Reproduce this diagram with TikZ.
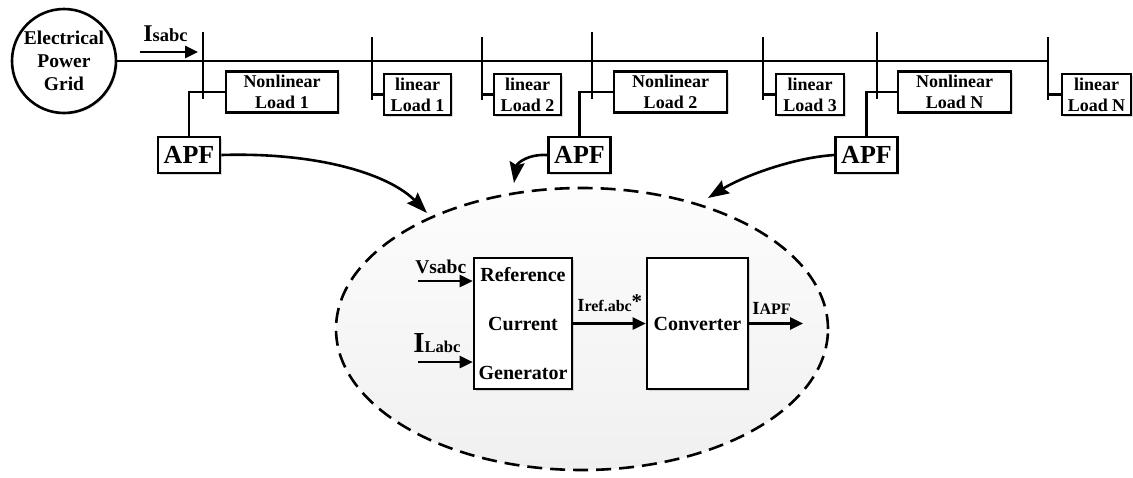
\documentclass[tikz,border=0pt]{standalone}
\usepackage{fontspec}
\setmainfont{Liberation Serif}
\usetikzlibrary{arrows.meta}
\usetikzlibrary{shapes.geometric}
\usetikzlibrary{shadows}

\tikzset{
  shadowed/.style={drop shadow={shadow xshift=1.5pt, shadow yshift=-1.5pt, opacity=0.3}},
  loadbox/.style={draw, shadowed, fill=white, align=center, inner sep=0pt, minimum height=41pt, font=\fontsize{18}{21}\selectfont\bfseries},
  apfbox/.style={draw, shadowed, fill=white, inner sep=0pt, minimum width=62pt, minimum height=36pt, font=\fontsize{26}{26}\selectfont\bfseries},
  blockbox/.style={draw, shadowed, fill=white, align=center, inner sep=0pt, minimum height=131pt, font=\fontsize{20}{49}\selectfont\bfseries},
  flow/.style={-{Triangle[length=13pt,width=12pt]}},
  feedarrow/.style={-{Stealth[length=21pt,width=15pt,inset=3pt]}},
}

\begin{document}
\begin{tikzpicture}[x=1pt, y=-1pt, line width=2.6pt, font=\bfseries]
\definecolor{CORE}{RGB}{240,240,240}
\useasboundingbox (0,0) rectangle (1133,477);

\node[circle, draw, shadowed, fill=white, minimum size=104pt, inner sep=0pt, align=center, font=\fontsize{19.5}{23}\selectfont\bfseries] (grid) at (64,61) {Electrical\\Power\\Grid};
\coordinate (busend) at (1048,61);
\draw (grid.east) -- (busend);

\coordinate (isin) at (140,52);
\coordinate (isout) at (198,52);
\draw[flow] (isin) -- (isout);
\node[anchor=base west, inner sep=0pt] (islabel) at (142,41) {{\fontsize{24}{24}\selectfont I}{\fontsize{18.5}{18.5}\selectfont sabc}};

\node[loadbox, minimum width=112pt] (nl1) at (282,92) {Nonlinear\\Load 1};
\node[loadbox, minimum width=67pt] (ll1) at (417.5,94.5) {linear\\Load 1};
\node[loadbox, minimum width=67pt] (ll2) at (527.5,94.5) {linear\\Load 2};
\node[loadbox, minimum width=113pt] (nl2) at (670.5,92) {Nonlinear\\Load 2};
\node[loadbox, minimum width=68pt] (ll3) at (810,94.5) {linear\\Load 3};
\node[loadbox, minimum width=113pt] (nln) at (954.5,92) {Nonlinear\\Load N};
\node[loadbox, minimum width=69pt] (lln) at (1096.5,94.5) {linear\\Load N};

\draw (203,32) coordinate (tap1) -- (203,99);
\draw (372,37) coordinate (tap2) -- (372,100);
\draw (482,37) coordinate (tap3) -- (482,100);
\draw (592,32) coordinate (tap4) -- (592,99);
\draw (763,37) coordinate (tap5) -- (763,100);
\draw (877,32) coordinate (tap6) -- (877,99);
\draw (1048,37) coordinate (tap7) -- (1048,100);

\draw (ll1.west) -- (ll1.west -| tap2);
\draw (ll2.west) -- (ll2.west -| tap3);
\draw (ll3.west) -- (ll3.west -| tap5);
\draw (lln.west) -- (lln.west -| tap7);

\node[apfbox] (apf1) at (189,155) {APF};
\node[apfbox] (apf2) at (579.5,155) {APF};
\node[apfbox] (apf3) at (866.5,155) {APF};
\draw (apf1.north) |- (nl1.west);
\draw (apf2.north) |- (nl2.west);
\draw (apf3.north) |- (nln.west);

\node[ellipse, draw, top color=gray!2, bottom color=CORE, dash pattern=on 15pt off 8pt, minimum width=492pt, minimum height=282pt] (core) at (582,329) {};

\coordinate (tip1) at (427,213);
\coordinate (tip2) at (514,183);
\coordinate (tip3) at (708,198);
\draw[feedarrow] (apf1.east) .. controls (320,152) and (390,175) .. (tip1);
\draw[feedarrow] (apf2.west) .. controls (528,154) and (517,163) .. (tip2);
\draw[feedarrow] (apf3.west) .. controls (790,158) and (740,178) .. (tip3);

\node[blockbox, minimum width=98pt] (rcg) at (523,323.5) {Reference\\Current\\Generator};
\node[blockbox, minimum width=101pt] (conv) at (697.5,323.5) {Converter};

\coordinate (vin) at (418,281);
\coordinate (iin) at (418,362);
\coordinate (iout) at (803,323.5);
\draw[flow] (vin) -- (vin -| rcg.west);
\draw[flow] (iin) -- (iin -| rcg.west);
\draw[flow] (rcg.east) -- (conv.west);
\draw[flow] (conv.east) -- (iout);

\node[anchor=base west, inner sep=0pt, font=\fontsize{19.5}{19.5}\selectfont\bfseries] (vlabel) at (414,273) {Vsabc};
\node[anchor=base west, inner sep=0pt] (ilabel) at (412,352) {{\fontsize{29}{29}\selectfont I}{\fontsize{16.5}{16.5}\selectfont Labc}};
\node[anchor=base west, inner sep=0pt] (reflabel) at (576,311) {{\fontsize{18.5}{18.5}\selectfont I}{\fontsize{16}{16}\selectfont ref.abc}{\fontsize{21}{21}\selectfont\raisebox{3pt}{*}}};
\node[anchor=base west, inner sep=0pt] (apflabel) at (751,314) {{\fontsize{18.5}{18.5}\selectfont I}{\fontsize{16}{16}\selectfont APF}};
\end{tikzpicture}
\end{document}
